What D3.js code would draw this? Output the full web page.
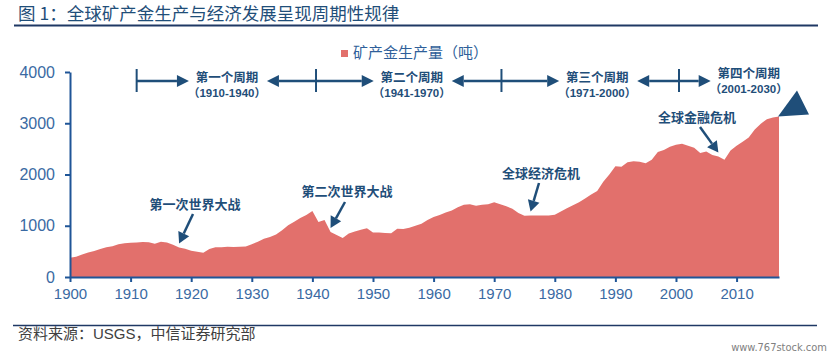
<!DOCTYPE html>
<html><head><meta charset="utf-8">
<script src="https://cdn.jsdelivr.net/npm/d3@7"></script>
<style>
body{margin:0;background:#fff;}
svg{display:block;}
</style></head>
<body>
<svg id="c" width="830" height="355"></svg>
<script>
const years = d3.range(1900, 2018);
const production = [
 375,395,440,480,505,545,580,600,640,660,
 670,675,685,680,650,690,675,630,575,550,
 510,495,475,545,580,580,590,585,590,595,
 640,690,745,780,830,910,1010,1080,1150,1210,
 1290,1075,1110,880,820,760,850,890,920,950,
 870,870,860,855,940,935,960,1000,1040,1110,
 1170,1210,1260,1300,1360,1410,1420,1390,1410,1420,
 1460,1420,1380,1330,1250,1195,1200,1200,1200,1200,
 1215,1280,1340,1400,1460,1530,1610,1680,1860,2000,
 2160,2150,2240,2260,2250,2220,2290,2440,2480,2540,
 2580,2600,2560,2520,2420,2450,2380,2350,2290,2470,
 2560,2640,2720,2880,2990,3080,3110,3130
];
const xTicks = d3.range(1900, 2011, 10);
const yTicks = [0, 1000, 2000, 3000, 4000];
const seriesName = "矿产金生产量（吨）";
const cycleNames = ["第一个周期","第二个周期","第三个周期","第四个周期"];
const cycleRanges = ["（1910-1940）","（1941-1970）","（1971-2000）","（2001-2030）"];
const cycleBounds = [1911, 1940.6, 1971.2, 2000.5];
const cycleCenters = [1925.9, 1956.4, 1987, 2012];
const events = [
  {label:"第一次世界大战", year:1918},
  {label:"第二次世界大战", year:1943},
  {label:"全球经济危机", year:1976},
  {label:"全球金融危机", year:2007}
];

const svg = d3.select("#c");
const CJK = "'Noto Sans CJK SC', sans-serif";
const LAT = "'Liberation Sans', 'Noto Sans CJK SC', sans-serif";
const dark = "#1f4e79";
const axisCol = "#1f5597";
const labCol = "#3a6aa3";

const x = d3.scaleLinear().domain([1900, 2017]).range([70, 779]);
const y = d3.scaleLinear().domain([0, 4000]).range([277, 72]);

// title
svg.append("text").attr("x",18).attr("y",20).attr("font-family",CJK).attr("font-size",17.5)
  .attr("fill","#1f4e79").text("图 1：全球矿产金生产与经济发展呈现周期性规律");
svg.append("line").attr("x1",14).attr("x2",818).attr("y1",25.5).attr("y2",25.5)
  .attr("stroke","#1f3864").attr("stroke-width",2);

// area
const data = years.map((yr,i)=>({yr, v:production[i]}));
svg.append("path").datum(data)
  .attr("fill","#e2706c")
  .attr("d", d3.area().x(d=>x(d.yr)).y0(y(0)).y1(d=>y(d.v)));

// trend triangle at end
const last = data[data.length-1];
const lx = x(last.yr), ly = y(last.v);
svg.append("path").attr("fill", dark)
  .attr("d", `M${lx-1},${ly} L${lx+18},${ly-26} L${lx+30},${ly-2} Z`);

// axes
const gx = svg.append("g").attr("transform",`translate(0,${y(0)})`)
  .call(d3.axisBottom(x).tickValues(xTicks).tickFormat(d3.format("d")).tickSize(5).tickSizeOuter(0));
const gy = svg.append("g").attr("transform",`translate(${x(1900)},0)`)
  .call(d3.axisLeft(y).tickValues(yTicks).tickFormat(d3.format("d")).tickSize(5).tickSizeOuter(0));
[gx,gy].forEach(g=>{
  g.selectAll("path.domain").attr("stroke",axisCol).attr("stroke-width",2);
  g.selectAll(".tick line").attr("stroke",axisCol).attr("stroke-width",2);
  g.selectAll(".tick text").attr("fill",labCol).attr("font-family",LAT).attr("font-size",15);
});
gx.selectAll(".tick text").attr("dy","0.95em");
gy.selectAll(".tick text").attr("x",-15).attr("font-size",16);

// legend
svg.append("rect").attr("x",341).attr("y",50).attr("width",7).attr("height",7).attr("fill","#e2706c");
svg.append("text").attr("x",353).attr("y",58).attr("font-family",CJK).attr("font-size",15)
  .attr("fill","#2f5f9a").text(seriesName);

// arrow helper
function arrow(x1,y1,x2,y2,w,hl,hw){
  const a = Math.atan2(y2-y1,x2-x1);
  const bx = x2 - hl*Math.cos(a), by = y2 - hl*Math.sin(a);
  svg.append("line").attr("x1",x1).attr("y1",y1).attr("x2",bx).attr("y2",by)
    .attr("stroke",dark).attr("stroke-width",w);
  const px = -Math.sin(a)*hw, py = Math.cos(a)*hw;
  svg.append("path").attr("fill",dark)
    .attr("d",`M${x2},${y2} L${bx+px},${by+py} L${bx-px},${by-py} Z`);
}

// cycles
const rowY = 81;
cycleBounds.forEach((b,i)=>{
  const bx = x(b);
  svg.append("line").attr("x1",bx).attr("x2",bx).attr("y1",69).attr("y2",92)
    .attr("stroke",dark).attr("stroke-width",2);
  const cx = x(cycleCenters[i]);
  arrow(bx,rowY,cx-38,rowY,2.5,12,6);
  if(i>0){ const pc = x(cycleCenters[i-1]); arrow(bx,rowY,pc+40,rowY,2.5,12,6); }
});
cycleCenters.forEach((c,i)=>{
  const dy = i===3 ? -4 : 0;
  svg.append("text").attr("x",x(c)).attr("y",82+dy).attr("text-anchor","middle")
    .attr("font-family",CJK).attr("font-weight","bold").attr("font-size",12.5)
    .attr("fill",dark).text(cycleNames[i]);
  svg.append("text").attr("x",x(c)).attr("y",96.5+dy).attr("text-anchor","middle")
    .attr("font-family",LAT).attr("font-weight","bold").attr("font-size",11.5)
    .attr("fill",dark).text(cycleRanges[i]);
});

// events
const evLayout = [
  {tx:195, ty:209, x1:193, y1:214},
  {tx:347, ty:196, x1:345, y1:202},
  {tx:541, ty:178, x1:539, y1:183},
  {tx:697, ty:122, x1:700, y1:127}
];
events.forEach((e,i)=>{
  const L = evLayout[i];
  svg.append("text").attr("x",L.tx).attr("y",L.ty).attr("text-anchor","middle")
    .attr("font-family",CJK).attr("font-weight","bold").attr("font-size",13)
    .attr("fill",dark).text(e.label);
  const idx = years.indexOf(e.year);
  const tx = x(e.year), ty = y(production[idx]) - 4;
  arrow(L.x1,L.y1,tx,ty,2.5,11,6);
});

// source
svg.append("line").attr("x1",13).attr("x2",817).attr("y1",325.5).attr("y2",325.5)
  .attr("stroke","#1f3864").attr("stroke-width",1.5);
svg.append("text").attr("x",18).attr("y",339).attr("font-family",LAT).attr("font-size",15)
  .attr("fill","#404040").text("资料来源：USGS，中信证券研究部");
svg.append("text").attr("x",827).attr("y",351).attr("text-anchor","end").attr("font-family","'DejaVu Sans Condensed','DejaVu Sans',sans-serif").attr("font-size",11)
  .attr("fill","#808080").text("www.767stock.com");
</script>
</body></html>
